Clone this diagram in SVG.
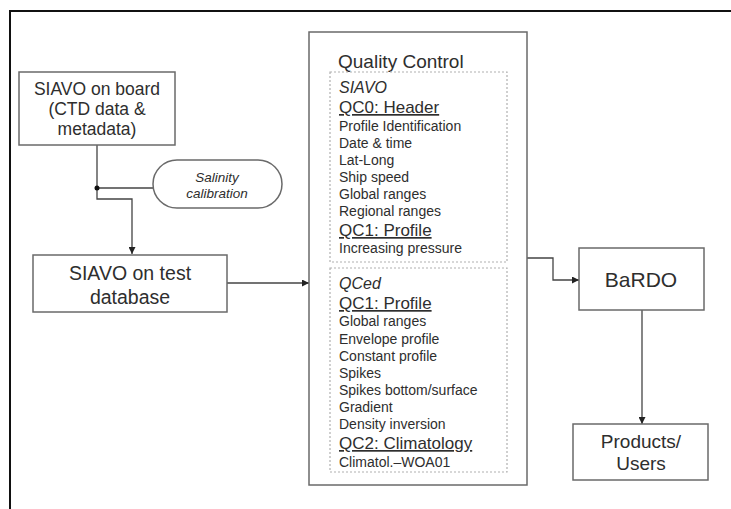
<svg xmlns="http://www.w3.org/2000/svg" width="731" height="509" viewBox="0 0 731 509">
<defs>
<marker id="ah" viewBox="0 0 10 10" refX="10" refY="5" markerWidth="7" markerHeight="7" markerUnits="userSpaceOnUse" orient="auto">
<path d="M0,0 L10,5 L0,10 z" fill="#222"/>
</marker>
<style>
text{font-family:"Liberation Sans",Arial,sans-serif;fill:#2e2e2e}
.box{fill:#fff;stroke:#6a6a6a;stroke-width:1.5}
.dot{fill:none;stroke:#b0b0b0;stroke-width:1.2;stroke-dasharray:2 2}
.c{fill:none;stroke:#444;stroke-width:1.3}
.big{font-size:19px}
.it{font-style:italic}
.h{font-size:17px;text-decoration:underline}
.s{font-size:14px}
</style>
</defs>
<rect width="731" height="509" fill="#fff"/>
<path d="M10,509 V11 H731" fill="none" stroke="#111" stroke-width="2"/>
<g id="connectors">
<path class="c" d="M97,145 V199 H132 V254" marker-end="url(#ah)"/>
<path class="c" d="M97,188 H153"/>
<circle cx="97" cy="188" r="2.5" fill="#111"/>
<path class="c" d="M227,283 H309" marker-end="url(#ah)"/>
<path class="c" d="M527,258 H553 V280 H579" marker-end="url(#ah)"/>
<path class="c" d="M642,310 V424" marker-end="url(#ah)"/>
</g>
<g id="siavo-board">
<rect class="box" x="19" y="72" width="156" height="73"/>
<text x="97" y="95" text-anchor="middle" font-size="17.5">SIAVO on board</text>
<text x="97" y="115" text-anchor="middle" font-size="17.5">(CTD data &amp;</text>
<text x="97" y="135" text-anchor="middle" font-size="17.5">metadata)</text>
</g>
<g id="salinity">
<rect class="box" x="153" y="160" width="129" height="48" rx="24"/>
<text x="217" y="182" text-anchor="middle" font-size="13.5" class="it">Salinity</text>
<text x="217" y="198" text-anchor="middle" font-size="13.5" class="it">calibration</text>
</g>
<g id="siavo-test">
<rect class="box" x="33" y="255" width="194" height="57"/>
<text x="130" y="280" text-anchor="middle" font-size="19.5">SIAVO on test</text>
<text x="130" y="304" text-anchor="middle" font-size="19.5">database</text>
</g>
<g id="quality-control">
<rect class="box" x="309" y="32" width="218" height="453"/>
<text x="338" y="68" class="big">Quality Control</text>
<rect class="dot" x="330" y="72" width="177" height="190"/>
<text x="339" y="93" font-size="16" class="it">SIAVO</text>
<text x="339" y="113" class="h">QC0: Header</text>
<text x="339" y="131" class="s">Profile Identification</text>
<text x="339" y="148" class="s">Date &amp; time</text>
<text x="339" y="165" class="s">Lat-Long</text>
<text x="339" y="182" class="s">Ship speed</text>
<text x="339" y="199" class="s">Global ranges</text>
<text x="339" y="216" class="s">Regional ranges</text>
<text x="339" y="236" class="h">QC1: Profile</text>
<text x="339" y="253" class="s">Increasing pressure</text>
<rect class="dot" x="330" y="268" width="177" height="204"/>
<text x="339" y="289" font-size="16" class="it">QCed</text>
<text x="339" y="309" class="h">QC1: Profile</text>
<text x="339" y="326" class="s">Global ranges</text>
<text x="339" y="344" class="s">Envelope profile</text>
<text x="339" y="361" class="s">Constant profile</text>
<text x="339" y="378" class="s">Spikes</text>
<text x="339" y="395" class="s">Spikes bottom/surface</text>
<text x="339" y="412" class="s">Gradient</text>
<text x="339" y="429" class="s">Density inversion</text>
<text x="339" y="449" class="h">QC2: Climatology</text>
<text x="339" y="467" class="s">Climatol.–WOA01</text>
</g>
<g id="bardo">
<rect class="box" x="579" y="248" width="125" height="62"/>
<text x="641" y="287" text-anchor="middle" font-size="21">BaRDO</text>
</g>
<g id="products">
<rect class="box" x="573" y="424" width="135" height="56"/>
<text x="641" y="448" text-anchor="middle" font-size="19">Products/</text>
<text x="641" y="470" text-anchor="middle" font-size="19">Users</text>
</g>
</svg>
